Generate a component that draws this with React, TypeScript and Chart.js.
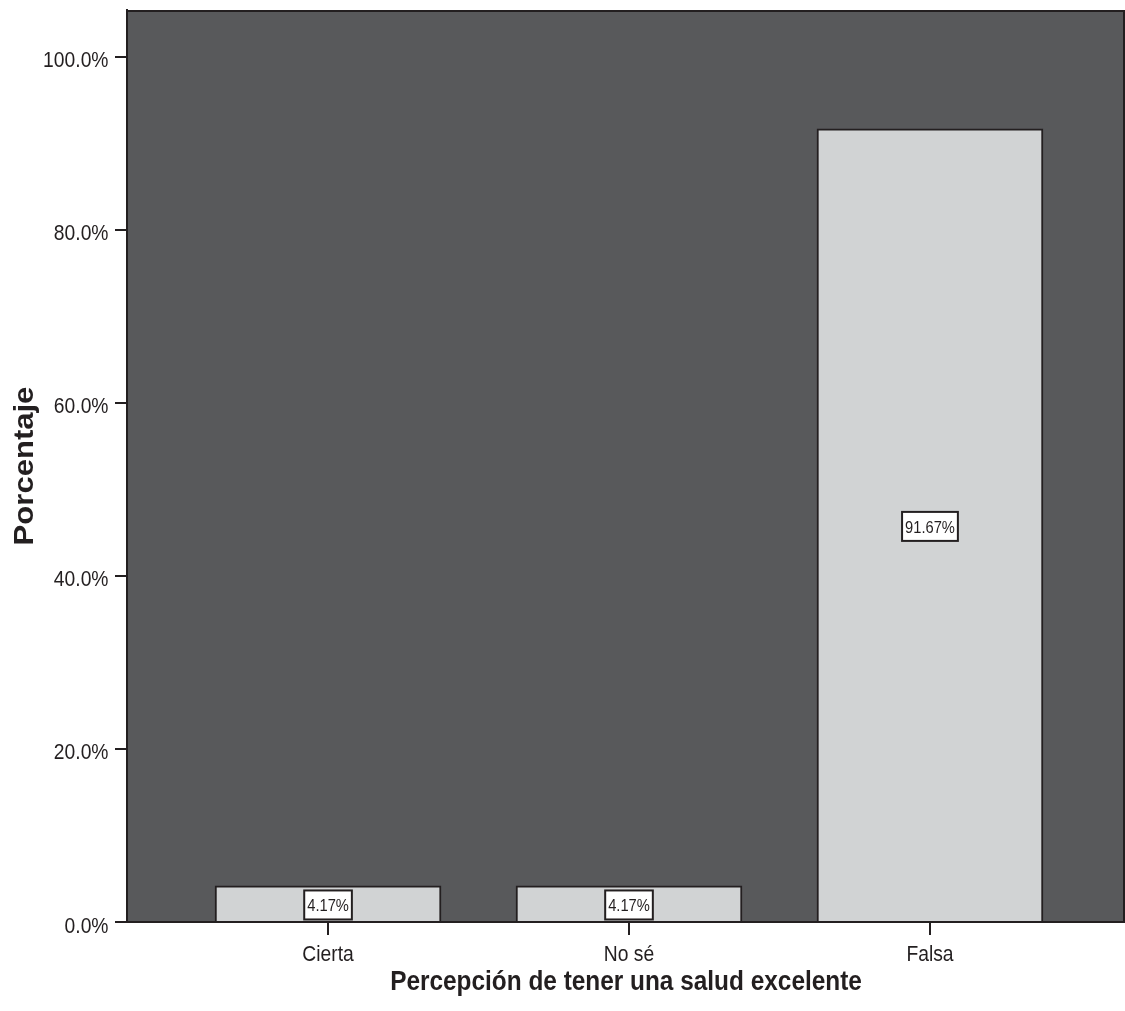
import React, { useEffect, useRef } from "react";
import { Chart, registerables } from "chart.js";

Chart.register(...registerables);

// Response categories and their share of respondents (%)
const categories = ["Cierta", "No sé", "Falsa"];
const categoryPositions = [1, 2, 3];
const percentages = [4.17, 4.17, 91.67];
const yTickValues = [0, 20, 40, 60, 80, 100];

const xTitle = "Percepción de tener una salud excelente";
const yTitle = "Porcentaje";

const INK = "#231f20";
const PLOT_BG = "#58595b";
const BAR_FILL = "#d1d3d4";
const FAMILY = '"Liberation Sans", Arial, Helvetica, sans-serif';
// glyphs are drawn slightly taller than wide
const STRETCH = 1.15;

function stretchedText(
  ctx: CanvasRenderingContext2D,
  text: string,
  x: number,
  y: number,
  font: string,
  align: CanvasTextAlign,
  rotate = false
) {
  ctx.save();
  ctx.translate(x, y);
  if (rotate) {
    ctx.rotate(-Math.PI / 2);
    ctx.scale(STRETCH, 1);
  } else {
    ctx.scale(1, STRETCH);
  }
  ctx.font = font;
  ctx.fillStyle = INK;
  ctx.textAlign = align;
  ctx.textBaseline = "alphabetic";
  ctx.fillText(text, 0, 0);
  ctx.restore();
}

const plotFrame = {
  id: "plotFrame",
  beforeDraw(chart: any) {
    const { ctx, chartArea: a } = chart;
    ctx.save();
    ctx.fillStyle = PLOT_BG;
    ctx.fillRect(a.left, a.top, a.right - a.left, a.bottom - a.top);
    ctx.restore();
  },
  afterDatasetsDraw(chart: any) {
    const { ctx, chartArea: a } = chart;
    ctx.save();
    ctx.strokeStyle = INK;
    ctx.lineWidth = 2;
    ctx.beginPath();
    ctx.moveTo(a.left, a.top + 1);
    ctx.lineTo(a.right - 1, a.top + 1);
    ctx.lineTo(a.right - 1, a.bottom);
    ctx.stroke();
    ctx.restore();
  },
};

const textLayer = {
  id: "textLayer",
  afterDraw(chart: any) {
    const { ctx, chartArea: a } = chart;
    const xs = chart.scales.x;
    const ys = chart.scales.y;

    // value tick labels
    const tickFont = `19.3px ${FAMILY}`;
    yTickValues.forEach((v) => {
      const py = ys.getPixelForValue(v);
      stretchedText(ctx, `${v.toFixed(1)}%`, a.left - 18.5, py + 10.5, tickFont, "right");
    });

    // category tick labels
    categoryPositions.forEach((p, i) => {
      const px = xs.getPixelForValue(p);
      stretchedText(ctx, categories[i], px, a.bottom + 39, tickFont, "center");
    });

    // axis titles
    stretchedText(ctx, xTitle, (a.left + a.right) / 2, a.bottom + 68, `bold 24.4px ${FAMILY}`, "center");
    stretchedText(ctx, yTitle, 32.5, (a.top + a.bottom) / 2, `bold 27px ${FAMILY}`, "center", true);

    // boxed value labels at bar mid-height
    const meta = chart.getDatasetMeta(0);
    const labelFont = `14.7px ${FAMILY}`;
    meta.data.forEach((el: any, i: number) => {
      const text = `${percentages[i].toFixed(2)}%`;
      ctx.save();
      ctx.font = labelFont;
      const w = ctx.measureText(text).width + 6;
      ctx.restore();
      const h = 29;
      const cx = el.x;
      const cy = (el.y + el.base) / 2 + 1.5;
      ctx.save();
      ctx.fillStyle = "#ffffff";
      ctx.fillRect(cx - w / 2, cy - h / 2, w, h);
      ctx.strokeStyle = INK;
      ctx.lineWidth = 2;
      ctx.strokeRect(cx - w / 2, cy - h / 2, w, h);
      ctx.restore();
      stretchedText(ctx, text, cx, cy + 6.3, labelFont, "center");
    });
  },
};

export default function App() {
  const canvasRef = useRef<HTMLCanvasElement | null>(null);

  useEffect(() => {
    if (!canvasRef.current) return;
    const chart = new Chart(canvasRef.current, {
      type: "bar",
      data: {
        datasets: [
          {
            data: categoryPositions.map((p, i) => ({ x: p, y: percentages[i] })),
            backgroundColor: BAR_FILL,
            borderColor: INK,
            borderWidth: 2,
            barThickness: 226,
          },
        ],
      },
      options: {
        animation: false,
        responsive: false,
        devicePixelRatio: 1,
        layout: { padding: { top: 10, left: 0, right: 0, bottom: 0 } },
        plugins: {
          legend: { display: false },
          tooltip: { enabled: false },
          title: { display: false },
        },
        scales: {
          x: {
            type: "linear",
            min: 0.332,
            max: 3.648,
            offset: false,
            afterBuildTicks: (s: any) => {
              s.ticks = categoryPositions.map((v) => ({ value: v }));
            },
            afterFit: (s: any) => {
              s.height = 89;
            },
            ticks: { display: false },
            grid: {
              offset: false,
              drawOnChartArea: false,
              drawTicks: true,
              tickLength: 13,
              color: INK,
              lineWidth: 2,
            },
            border: { display: true, color: INK, width: 2 },
          },
          y: {
            type: "linear",
            min: 0,
            max: 105.4,
            afterBuildTicks: (s: any) => {
              s.ticks = yTickValues.map((v) => ({ value: v }));
            },
            afterFit: (s: any) => {
              s.width = 127;
            },
            ticks: { display: false },
            grid: {
              drawOnChartArea: false,
              drawTicks: true,
              tickLength: 12,
              color: INK,
              lineWidth: 2,
            },
            border: { display: true, color: INK, width: 2 },
          },
        },
      } as any,
      plugins: [plotFrame, textLayer],
    });
    return () => chart.destroy();
  }, []);

  return (
    <div style={{ position: "absolute", left: 0, top: 0, width: 1125, height: 1011, background: "#ffffff" }}>
      <canvas ref={canvasRef} width={1125} height={1011} style={{ display: "block" }} />
    </div>
  );
}
